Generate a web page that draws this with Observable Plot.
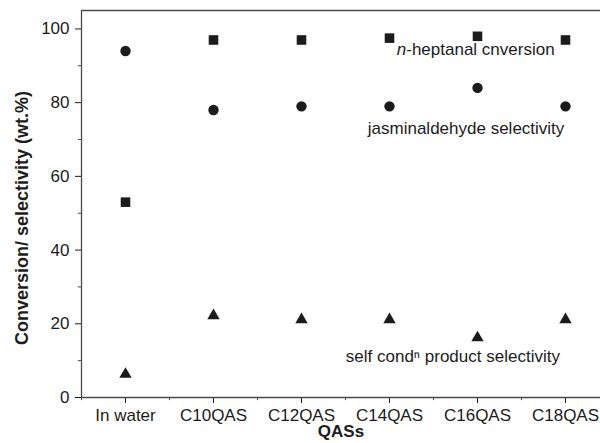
<!DOCTYPE html>
<html>
<head>
<meta charset="utf-8">
<script src="https://cdn.jsdelivr.net/npm/d3@7"></script>
<script src="https://cdn.jsdelivr.net/npm/@observablehq/plot@0.6"></script>
<style>
  html, body { margin: 0; padding: 0; background: #fff; }
  #chart svg { display: block; }
</style>
</head>
<body>
<div id="chart"></div>
<script>
const categories = ["In water", "C10QAS", "C12QAS", "C14QAS", "C16QAS", "C18QAS"];
const conversion = [53, 97, 97, 97.5, 98, 97];
const jasminaldehyde = [94, 78, 79, 79, 84, 79];
const selfCond = [6.3, 22.2, 21.1, 21.1, 16.2, 21.1];
const yTicks = [0, 20, 40, 60, 80, 100];
const yMinorTicks = [10, 30, 50, 70, 90];
const xMinorTicks = [-0.5, 0.5, 1.5, 2.5, 3.5, 4.5];

const idx = categories.map((_, i) => i);
const convData = idx.map(i => ({x: i, y: conversion[i]}));
const jasData = idx.map(i => ({x: i, y: jasminaldehyde[i]}));
const selfData = idx.map(i => ({x: i, y: selfCond[i]}));

const ink = "#1c1c1c";
const axisInk = "#4a4a4a";
const font = "'Liberation Sans', Arial, sans-serif";

const chart = Plot.plot({
  width: 600,
  height: 443,
  marginTop: 10,
  marginBottom: 46,
  marginLeft: 81,
  marginRight: 0,
  style: {fontFamily: font, fontSize: "17px", color: ink, background: "#fff"},
  x: {
    type: "linear",
    domain: [-0.5, 5.5],
    range: [81, 609],
    ticks: idx,
    tickFormat: i => categories[i],
    tickSize: 6,
    tickPadding: 5,
    label: null
  },
  y: {
    domain: [0, 105],
    ticks: yTicks,
    tickSize: 6,
    tickPadding: 6,
    label: null
  },
  marks: [
    Plot.ruleY([0], {stroke: axisInk, strokeWidth: 1.3}),
    Plot.ruleY([105], {stroke: axisInk, strokeWidth: 1.3}),
    Plot.ruleX([-0.5], {stroke: axisInk, strokeWidth: 1.3}),
    Plot.ruleX(xMinorTicks, {x: d => d, y1: 0, y2: -0.85, stroke: axisInk}),
    Plot.ruleY(yMinorTicks, {y: d => d, x1: -0.5, x2: -0.5 - 3.2 / 88, stroke: axisInk}),
    Plot.dot(convData, {x: "x", y: "y", symbol: "square", r: 5.4, fill: ink, stroke: "none"}),
    Plot.dot(jasData, {x: "x", y: "y", symbol: "circle", r: 5.2, fill: ink, stroke: "none"}),
    Plot.dot(selfData, {x: "x", y: "y", symbol: "triangle", r: 4.6, fill: ink, stroke: "none"}),
    Plot.text(["n"], {x: 3.19, y: 94.4, text: d => d, textAnchor: "end", fontStyle: "italic", fill: ink, fontSize: 17}),
    Plot.text(["-heptanal cnversion"], {x: 3.19, y: 94.4, text: d => d, textAnchor: "start", fill: ink, fontSize: 17}),
    Plot.text(["jasminaldehyde selectivity"], {x: 3.87, y: 72.9, text: d => d, fill: ink, fontSize: 17}),
    Plot.text(["self cond\u207F product selectivity"], {x: 3.72, y: 11.2, text: d => d, fill: ink, fontSize: 17}),
    Plot.text(["QASs"], {frameAnchor: "bottom", dy: 34, lineAnchor: "middle", textAnchor: "middle", text: d => d, fontWeight: "bold", fill: ink, fontSize: 17}),
    Plot.text(["Conversion/ selectivity (wt.%)"], {frameAnchor: "left", dx: -59, dy: 14, rotate: -90, textAnchor: "middle", lineAnchor: "middle", text: d => d, fontWeight: "bold", fill: ink, fontSize: 18})
  ]
});

document.getElementById("chart").appendChild(chart);
</script>
</body>
</html>
